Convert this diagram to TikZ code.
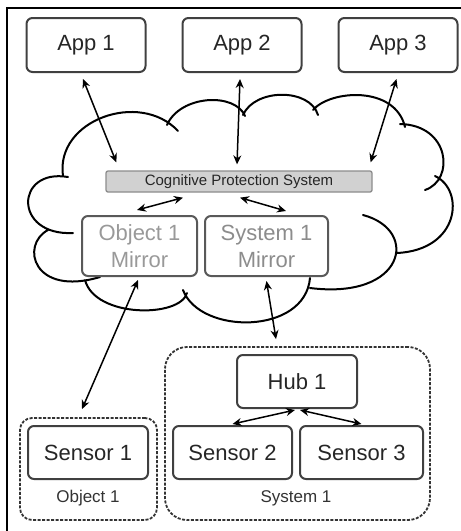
\documentclass[tikz,border=0pt]{standalone}
\usepackage{fontspec}
\setmainfont{Liberation Sans}
\usetikzlibrary{arrows.meta,positioning}

\begin{document}
\begin{tikzpicture}[x=1pt,y=-1pt,
  box/.style={draw=black!75,line width=2pt,rounded corners=6pt,align=center,inner sep=2pt,
    minimum height=54pt,text=black!85,font=\fontsize{22}{27}\selectfont},
  mirror/.style={box,draw=black!65,text=black!40,minimum height=60pt},
  group/.style={draw=black!80,line width=1.8pt,dash pattern=on 3pt off 1.5pt,inner sep=0pt},
  grouplabel/.style={font=\fontsize{17}{20}\selectfont,text=black!80},
  biarrow/.style={{Stealth[length=9pt,width=8pt]}-{Stealth[length=9pt,width=8pt]},line width=1.5pt},
  cloudline/.style={line width=2pt,line cap=round}]
\useasboundingbox (0,0) rectangle (461,531);
\draw[line width=2.6pt] (7,531) -- (7,8) -- (461,8);

% cloud
\draw[cloudline]
  (73,233) .. controls (13,236) and (15,168) .. (68,177)
  (63,176) .. controls (55,120) and (140,90) .. (178,131)
  (167,125) .. controls (180,95) and (235,92) .. (245,116)
  (243,115) .. controls (255,88) and (310,88) .. (318,115)
  (313,110) .. controls (330,90) and (395,85) .. (405,127)
  (400,124) .. controls (450,125) and (455,180) .. (425,190)
  (435,176) .. controls (465,190) and (460,250) .. (397,253)
  (363,215) .. controls (420,230) and (405,300) .. (310,288)
  (310,278) .. controls (305,335) and (200,335) .. (183,290)
  (187,293) .. controls (180,318) and (95,318) .. (85,280)
  (100,277) .. controls (33,297) and (20,245) .. (48,230);

\node[box,minimum width=119pt] (app1) at (86,45) {App 1};
\node[box,minimum width=119pt,right=35pt of app1] (app2) {App 2};
\node[box,minimum width=119pt,right=35pt of app2] (app3) {App 3};

\node[draw=black!45,fill=black!18,line width=1.3pt,rounded corners=2pt,minimum width=266pt,
  minimum height=21pt,inner sep=0pt,font=\fontsize{15}{18}\selectfont,text=black!85] (cps) at (239,181.5) {Cognitive Protection System};

\node[mirror,minimum width=115pt] (objmir) at (139.5,246) {Object 1\\Mirror};
\node[mirror,minimum width=123pt,text=black!45,right=6pt of objmir] (sysmir) {System 1\\Mirror};

\node[group,rounded corners=12pt,minimum width=137pt,minimum height=102pt] (objgrp) at (88.5,469) {};
\node[group,rounded corners=22pt,minimum width=265pt,minimum height=173pt] (sysgrp) at (297.5,433.5) {};

\node[box,minimum width=120pt,minimum height=53pt] (sensor1) at (88,452.5) {Sensor 1};
\node[box,minimum width=120pt,minimum height=53pt] (hub) at (297,381.5) {Hub 1};
\node[box,minimum width=119pt,minimum height=53pt] (sensor2) at (232.5,452.5) {Sensor 2};
\node[box,minimum width=123pt,minimum height=53pt,right=6pt of sensor2] (sensor3) {Sensor 3};
\node[grouplabel] (objlbl) at (88,498) {Object 1};
\node[grouplabel] (syslbl) at (296,498) {System 1};

\draw[biarrow] ([xshift=-3pt,yshift=-6pt]app1.south) -- ([xshift=11pt,yshift=8pt]cps.north west);
\draw[biarrow] ([xshift=-2pt,yshift=-6pt]app2.south) -- ([xshift=-2pt,yshift=6pt]cps.north);
\draw[biarrow] ([xshift=-1.5pt,yshift=-6pt]app3.south) -- ([xshift=-2pt,yshift=8pt]cps.north east);
\draw[biarrow] ([xshift=-56pt,yshift=-5pt]cps.south) -- ([xshift=-2.5pt,yshift=5pt]objmir.north);
\draw[biarrow] ([xshift=1pt,yshift=-5pt]cps.south) -- ([xshift=19.5pt,yshift=4pt]sysmir.north);
\draw[biarrow] ([xshift=-1.5pt,yshift=-3pt]objmir.south) -- ([xshift=-6.5pt,yshift=8pt]objgrp.north);
\draw[biarrow] ([yshift=-4pt]sysmir.south) -- ([xshift=-21.5pt,yshift=7pt]sysgrp.north);
\draw[biarrow] ([xshift=-2pt,yshift=-1pt]hub.south) -- ([yshift=1pt]sensor2.north);
\draw[biarrow] ([xshift=3pt,yshift=-1pt]hub.south) -- ([yshift=1pt]sensor3.north);
\end{tikzpicture}
\end{document}
